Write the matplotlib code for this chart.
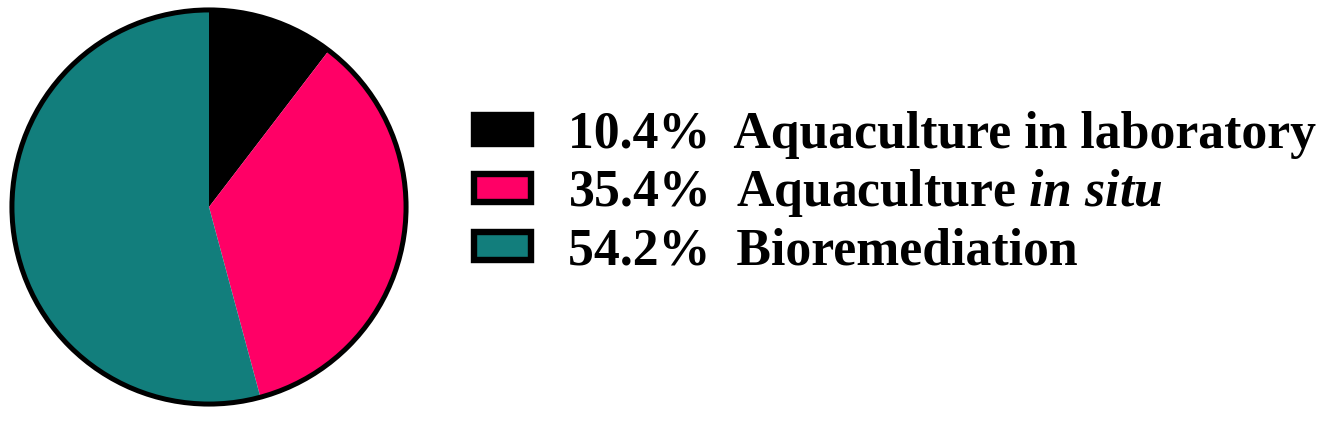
import matplotlib.pyplot as plt
from matplotlib.patches import Patch, Circle

plt.rcParams['font.family'] = 'Liberation Serif'
plt.rcParams['font.weight'] = 'bold'
plt.rcParams['mathtext.fontset'] = 'custom'
plt.rcParams['mathtext.it'] = 'Liberation Serif:italic:bold'
plt.rcParams['mathtext.rm'] = 'Liberation Serif:bold'

# data
categories = ['Aquaculture in laboratory', r'Aquaculture $\mathit{in\ situ}$', 'Bioremediation']
shares = [10.4, 35.4, 54.2]
colors = ['#000000', '#FF0066', '#127E7C']

W, H = 1318, 422
fig = plt.figure(figsize=(W / 100, H / 100), dpi=100)

# pie, circle centre ~ (209, 207) px, radius ~202 px
cx, cy, r = 209, 207, 201
ax = fig.add_axes([(cx - r) / W, (H - cy - r) / H, 2 * r / W, 2 * r / H])
wedges, _ = ax.pie(shares, colors=colors, startangle=90, counterclock=False,
                   radius=1, wedgeprops=dict(linewidth=0))
ax.add_patch(Circle((0, 0), 1, fill=False, edgecolor='black', linewidth=3.6))
ax.set_xlim(-1.02, 1.02)
ax.set_ylim(-1.02, 1.02)
ax.set_aspect('equal')
ax.axis('off')

fs = 37.3
handles = [Patch(facecolor=c, edgecolor='black', linewidth=4.6) for c in colors]
labels = [f"{s:.1f}%  {c}" for s, c in zip(shares, categories)]
fig.legend(handles, labels, loc='upper left', bbox_to_anchor=(474 / W, 1 - 111 / H),
           frameon=False, fontsize=fs, borderpad=0, borderaxespad=0,
           handlelength=1.1, handleheight=0.46, handletextpad=0.72,
           labelspacing=0.16)

fig.savefig('out.png', dpi=100)
